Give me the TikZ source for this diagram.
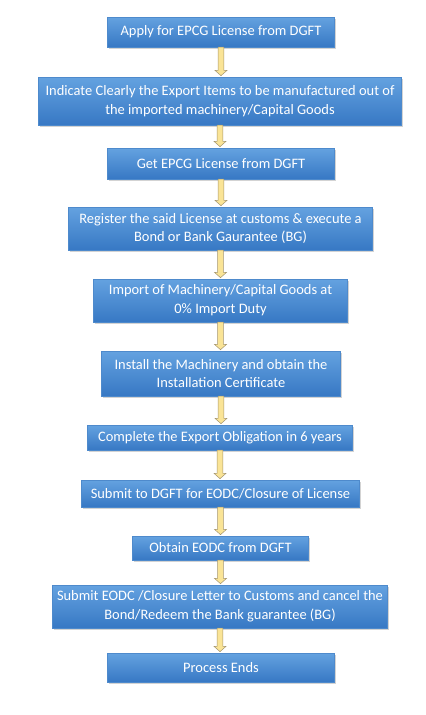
\documentclass[tikz,border=0pt]{standalone}
\usepackage{fontspec}
\setmainfont{Carlito}
\usetikzlibrary{shadows,calc}
\definecolor{boxtop}{RGB}{100,162,224}
\definecolor{boxbot}{RGB}{55,120,196}
\definecolor{boxline}{RGB}{78,138,204}
\definecolor{arrfill}{RGB}{250,228,150}
\definecolor{arrline}{RGB}{165,150,110}
\tikzset{
  stepbox/.style={rectangle, draw=boxline, line width=0.4pt,
    top color=boxtop, bottom color=boxbot, text=white, align=center,
    inner sep=0pt, font=\fontsize{14.5}{19}\selectfont,
    drop shadow={opacity=0.35, shadow xshift=1.2pt, shadow yshift=-1.6pt}},
  blockarr/.style={fill=arrfill, draw=arrline, line width=0.5pt, line join=miter}
}
\newcommand{\mkbox}[6]{% name, left, top, right, bottom, text
  \node[stepbox, minimum width={#4-#2}, minimum height={#5-#3}] (#1) at ({(#2+#4)/2},{-(#3+#5)/2}) {#6};}
\newcommand{\blockarrow}[2]{%
  \path let \p1=(#1.south), \p2=(#2.north) in
    [blockarr] (\x1-2.8pt,\y1) -- (\x1-2.8pt,\y2+6.5pt) -- (\x1-6pt,\y2+6.5pt) -- (\x1,\y2+1.2pt)
    -- (\x1+6pt,\y2+6.5pt) -- (\x1+2.8pt,\y2+6.5pt) -- (\x1+2.8pt,\y1) -- cycle;}
\begin{document}
\begin{tikzpicture}[x=1bp,y=1bp]
\useasboundingbox (0,0) rectangle (425,-715);
\mkbox{b1}{107}{17}{335}{47}{Apply for EPCG License from DGFT}
\mkbox{b2}{38}{77}{402}{125}{Indicate Clearly the Export Items to be manufactured out of\\the imported machinery/Capital Goods}
\mkbox{b3}{107}{148}{335}{179}{Get EPCG License from DGFT}
\mkbox{b4}{68}{207}{373}{250}{Register the said License at customs \& execute a\\Bond or Bank Gaurantee (BG)}
\mkbox{b5}{93}{279}{348}{322}{Import of Machinery/Capital Goods at\\0\% Import Duty}
\mkbox{b6}{101}{351}{341}{396}{Install the Machinery and obtain the\\Installation Certificate}
\mkbox{b7}{87}{425}{353}{450}{Complete the Export Obligation in 6 years}
\mkbox{b8}{81}{480}{360}{507}{Submit to DGFT for EODC/Closure of License}
\mkbox{b9}{132}{536}{309}{560}{Obtain EODC from DGFT}
\mkbox{b10}{52}{585}{388}{628}{Submit EODC /Closure Letter to Customs and cancel the\\Bond/Redeem the Bank guarantee (BG)}
\mkbox{b11}{107}{653}{335}{682}{Process Ends}
\blockarrow{b1}{b2}
\blockarrow{b2}{b3}
\blockarrow{b3}{b4}
\blockarrow{b4}{b5}
\blockarrow{b5}{b6}
\blockarrow{b6}{b7}
\blockarrow{b7}{b8}
\blockarrow{b8}{b9}
\blockarrow{b9}{b10}
\blockarrow{b10}{b11}
\end{tikzpicture}
\end{document}
